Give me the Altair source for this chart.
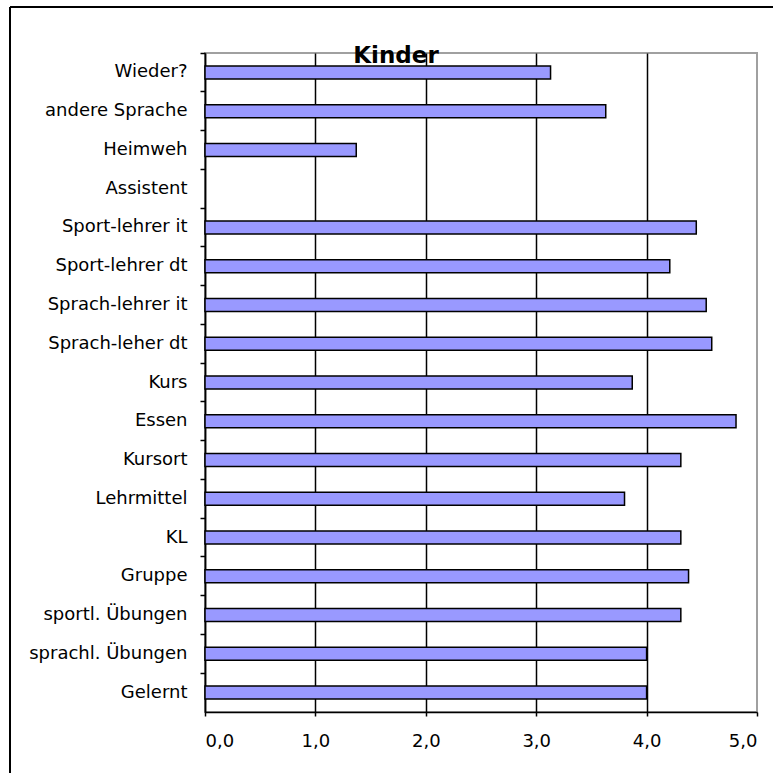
import altair as alt
import pandas as pd

categories = [
    "Wieder?", "andere Sprache", "Heimweh", "Assistent", "Sport-lehrer it",
    "Sport-lehrer dt", "Sprach-lehrer it", "Sprach-leher dt", "Kurs", "Essen",
    "Kursort", "Lehrmittel", "KL", "Gruppe", "sportl. Übungen",
    "sprachl. Übungen", "Gelernt",
]
values = [3.13, 3.63, 1.37, None, 4.45, 4.21, 4.54, 4.59, 3.87, 4.81,
          4.31, 3.80, 4.31, 4.38, 4.31, 4.00, 4.00]
x_ticks = [0, 1, 2, 3, 4, 5]
title_text = "Kinder"

df = pd.DataFrame({"Kategorie": categories, "Wert": values})

FONT = "DejaVu Sans"

bars = alt.Chart(df).mark_bar(
    height=13, fill="#9999FF", stroke="#000000", strokeWidth=1.5
).encode(
    x=alt.X(
        "Wert:Q",
        scale=alt.Scale(domain=[0, 5], nice=False, zero=True),
        axis=alt.Axis(
            values=x_ticks,
            title=None,
            labelExpr="replace(format(datum.value, '.1f'), '.', ',')",
            labelFont=FONT, labelFontSize=18, labelColor="#000000",
            labelPadding=16, tickSize=4, tickColor="#000000", tickWidth=1.5,
            domainColor="#000000", domainWidth=1.5,
            grid=True,
            gridColor={"condition": {"test": "datum.value >= 5", "value": "transparent"},
                       "value": "#000000"},
            gridWidth=1.5,
        ),
    ),
    y=alt.Y(
        "Kategorie:N",
        sort=categories,
        scale=alt.Scale(domain=categories, paddingInner=0, paddingOuter=0),
        axis=alt.Axis(
            title=None, bandPosition=0,
            labelFont=FONT, labelFontSize=18, labelColor="#000000",
            labelPadding=13, tickSize=5, tickColor="#000000", tickWidth=1.5,
            domainColor="#000000", domainWidth=1.5, grid=False,
        ),
    ),
)

frame_top = alt.Chart(alt.Data(values=[{}])).mark_rule(
    color="#000000", strokeWidth=2
).encode(x=alt.value(-195), x2=alt.value(700), y=alt.value(-46))
frame_left = alt.Chart(alt.Data(values=[{}])).mark_rule(
    color="#000000", strokeWidth=2
).encode(x=alt.value(-195), y=alt.value(-46), y2=alt.value(800))

chart = alt.layer(bars, frame_top, frame_left).properties(
    width=552,
    height=659,
    autosize="none",
    padding={"left": 205, "top": 53, "right": 16, "bottom": 61},
    background="#FFFFFF",
    title=alt.TitleParams(
        title_text, font=FONT, fontSize=23, fontWeight="bold", color="#000000",
        anchor="middle", frame="group", baseline="alphabetic", offset=0,
        dx=-85, dy=80,
    ),
).configure_view(stroke="#A0A0A0", strokeWidth=2)

chart.save("out.html", embed_options={"renderer": "svg", "actions": False})
